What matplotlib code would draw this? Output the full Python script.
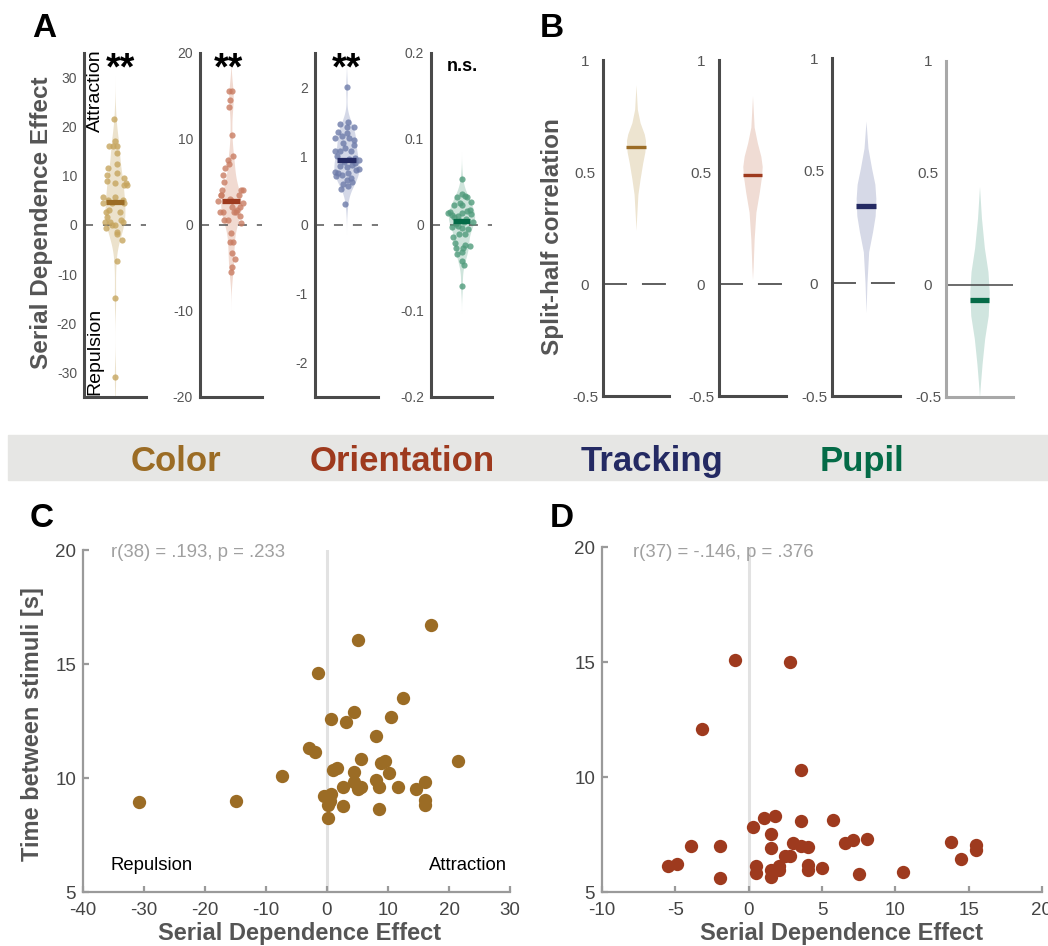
import numpy as np
import matplotlib
matplotlib.use('Agg')
import matplotlib.pyplot as plt
from matplotlib import font_manager
from matplotlib.patches import Rectangle

# ---------------- data ----------------
# Colour task: serial dependence effect (A, C x) and time between stimuli (C y)
color_sde = [-30.9, -14.9, -7.4, -2.96, -1.9, -1.45, 0.6, 3.06, 4.5, 5.05,
             17.0, 12.5, 10.5, 8.06, 21.5, 1.0, 1.56, 5.6, 4.5, 8.87,
             9.57, 10.1, 4.5, 5.05, 5.65, 8.06, 8.6, 11.6, 14.6, 16.1,
             16.1, 16.1, 2.63, 2.63, 8.6, -0.54, 0.65, 0.1, 0.54, 0.1]
color_isi = [8.93, 8.98, 10.1, 11.32, 11.14, 14.6, 12.59, 12.47, 12.9, 16.05,
             16.7, 13.5, 12.68, 11.83, 10.75, 10.34, 10.44, 10.83, 10.25, 10.66,
             10.75, 10.23, 9.81, 9.53, 9.59, 9.9, 9.6, 9.6, 9.52, 9.84,
             9.02, 8.83, 9.62, 8.76, 8.64, 9.23, 9.31, 8.83, 8.98, 8.23]
color_jit = [0, 0, .05, .22, .08, .05, -.32, -.2, -.4, .25,
             0, .08, .08, .28, -.02, .2, -.25, -.4, .3, -.25,
             .28, -.25, -.1, -.22, 0, .38, 0, -.22, .08, -.2,
             -.08, .05, -.3, .15, .36, -.3, .25, 0, -.15, -.1]

# Orientation task (A, D)
ori_sde = [-0.96, 2.79, -3.2, 3.54, 0.27, 1.03, 1.78, 3.54, 5.78, 1.53,
           1.53, -3.95, -1.94, -5.48, -4.9, -1.94, 3.0, 3.54, 4.04, 6.58,
           7.08, 8.04, 2.51, 2.8, 0.53, 0.53, 1.53, 2.05, 2.05, 1.53,
           4.04, 4.04, 5.02, 7.53, 10.52, 13.77, 15.53, 15.53, 14.5]
ori_isi = [15.09, 15.0, 12.07, 10.32, 7.83, 8.23, 8.29, 8.1, 8.12, 7.54,
           6.91, 6.99, 6.99, 6.14, 6.22, 5.59, 7.13, 6.99, 6.96, 7.13,
           7.28, 7.3, 6.55, 6.58, 6.12, 5.83, 5.97, 6.12, 5.94, 5.64,
           6.19, 5.97, 6.04, 5.8, 5.87, 7.17, 7.06, 6.81, 6.45]
ori_jit = [0, -.41, .04, -.32, .33, .30, .19, .27, -.27, -.35,
           -.27, .12, -.02, 0, .02, .08, -.02, -.32, .40, -.18,
           -.08, .08, .40, .02, -.22, -.11, .16, .02, .30, .11,
           -.30, .32, -.22, -.11, .02, -.05, -.08, .02, -.02]

# Tracking task (A)
track_sde = [2.00, 1.47, 1.49, 1.42, 1.42, 1.35, 1.30, 1.27, 1.26, 1.24,
             1.19, 1.07, 1.07, 1.07, 0.98, 0.94, 0.90, 0.86, 0.84, 0.82,
             0.77, 0.76, 0.71, 0.72, 0.69, 0.66, 0.59, 0.57, 0.52, 0.30,
             0.75, 0.87, 0.96, 1.12, 1.01, 1.33, 0.92, 0.63, 1.17, 0.80]
track_jit = [0, -.22, .06, 0, .24, -.28, -.13, .09, -.37, .23,
             -.11, -.37, -.22, .14, .28, .39, .28, -.22, 0, .39,
             -.37, .06, -.32, -.13, .13, 0, -.11, .04, -.19, -.04,
             -.28, .19, .09, -.04, -.30, .02, -.09, .17, .24, .30]

# Pupil (A)
pupil_sde = [0.054, 0.036, 0.034, 0.033, 0.033, 0.027, 0.025, 0.023, 0.023, 0.018,
             0.016, 0.015, 0.014, 0.014, 0.013, 0.012, 0.010, 0.009, 0.007, 0.005,
             0.004, 0.003, 0.001, -0.001, -0.002, -0.003, -0.005, -0.011, -0.011, -0.014,
             -0.021, -0.023, -0.025, -0.027, -0.027, -0.031, -0.034, -0.042, -0.047, -0.071]
pupil_jit = [0, .03, .11, -.16, .19, .30, -.05, -.24, .02, .27,
             .19, -.38, -.43, .03, .30, -.30, -.11, -.24, .16, -.05,
             .38, .09, -.19, -.13, -.30, .02, .22, -.08, .11, -.27,
             -.22, .13, .27, -.19, .06, .03, -.14, 0, .08, .03]

# Split-half correlation distributions (B): value and relative width of the violin
split_color_y = [0.89, 0.78, 0.72, 0.67, 0.64, 0.59, 0.54, 0.47, 0.40, 0.30, 0.24]
split_color_w = [0, 0.14, 0.43, 0.86, 1.0, 0.93, 0.70, 0.43, 0.20, 0.07, 0]
split_ori_y = [0.84, 0.70, 0.63, 0.57, 0.525, 0.48, 0.41, 0.32, 0.20, 0.08, 0.02]
split_ori_w = [0, 0.17, 0.50, 0.86, 1.0, 0.93, 0.70, 0.35, 0.17, 0.07, 0]
split_track_y = [0.72, 0.60, 0.51, 0.44, 0.376, 0.30, 0.23, 0.14, 0.004, -0.13]
split_track_w = [0, 0.20, 0.57, 0.90, 1.0, 0.93, 0.67, 0.27, 0.10, 0]
split_pupil_y = [0.44, 0.30, 0.166, 0.06, -0.03, -0.136, -0.24, -0.35, -0.44, -0.50]
split_pupil_w = [0, 0.20, 0.50, 0.87, 1.0, 0.90, 0.53, 0.27, 0.10, 0]
split_mean = [0.612, 0.488, 0.344, -0.068]

task_names = ['Color', 'Orientation', 'Tracking', 'Pupil']
stats_c = 'r(38) = .193, p = .233'
stats_d = 'r(37) = -.146, p = .376'

# ---------------- style ----------------
plt.rcParams['font.family'] = ['Liberation Sans', 'DejaVu Sans']
names = {f.name for f in font_manager.fontManager.ttflist}
band_font = 'Liberation Sans Narrow' if 'Liberation Sans Narrow' in names else 'Liberation Sans'
band_size = 30 if band_font == 'Liberation Sans Narrow' else 25

dark = ['#9b6c25', '#9e3a1e', '#242a63', '#046b47']
fills = ['#ece2cc', '#f1dad1', '#d4d8e7', '#cee4db']
dots = ['#c6a55e', '#c97c62', '#6d7ba9', '#4f9b7b']
bfills = ['#ede4d0', '#f0dcd4', '#d6d9e7', '#d0e5df']

W, H = 1048, 946
fig = plt.figure(figsize=(W / 100, H / 100), dpi=100)


def px_axes(left, top, right, bottom):
    return fig.add_axes([left / W, 1 - bottom / H, (right - left) / W, (bottom - top) / H])


def ftext(x, y, s, **kw):
    fig.text(x / W, 1 - y / H, s, **kw)


def kde_outline(vals, lo, hi):
    v = np.asarray(vals, dtype=float)
    iqr = np.subtract(*np.percentile(v, [75, 25]))
    bw = 0.9 * min(v.std(ddof=1), iqr / 1.34) * len(v) ** -0.2
    grid = np.linspace(max(v.min() - 3 * bw, lo), min(v.max() + 3 * bw, hi), 300)
    dens = np.exp(-0.5 * ((grid[:, None] - v[None, :]) / bw) ** 2).sum(axis=1)
    return grid, dens / dens.max()


# ---------------- panel A ----------------
a_vals = [color_sde, ori_sde, track_sde, pupil_sde]
a_jits = [color_jit, ori_jit, track_jit, pupil_jit]
a_lims = [(-35, 35), (-20, 20), (-2.5, 2.5), (-0.2, 0.2)]
a_ticks = [[-30, -20, -10, 0, 10, 20, 30], [-20, -10, 0, 10, 20],
           [-2, -1, 0, 1, 2], [-0.2, -0.1, 0, 0.1, 0.2]]
a_labels = [['-30', '-20', '-10', '0', '10', '20', '30'], ['-20', '-10', '0', '10', '20'],
            ['-2', '-1', '0', '1', '2'], ['-0.2', '-0.1', '0', '0.1', '0.2']]
a_box = [(84, 146), (200, 262), (315, 378), (431, 492)]
a_hw = [0.32, 0.33, 0.40, 0.43]
a_sig = ['**', '**', '**', 'n.s.']
a_sig_x = [120, 228, 346, 462]

for i in range(4):
    ax = px_axes(a_box[i][0], 53, a_box[i][1], 397)
    lo, hi = a_lims[i]
    g, d = kde_outline(a_vals[i], lo, hi)
    ax.fill_betweenx(g, -d * a_hw[i], d * a_hw[i], color=fills[i], lw=0, zorder=1)
    ax.axhline(0, color='#555555', lw=1.1, ls=(0, (5.9, 6.5)), zorder=2)
    ax.scatter(a_jits[i], a_vals[i], s=20, color=dots[i], alpha=0.8, lw=0, zorder=3)
    med = np.median(a_vals[i])
    ax.plot([-0.29, 0.29], [med, med], color=dark[i], lw=3.8, solid_capstyle='butt', zorder=4)
    ax.set_xlim(-1, 1)
    ax.set_ylim(lo, hi)
    ax.set_xticks([])
    ax.set_yticks(a_ticks[i])
    ax.set_yticklabels(a_labels[i])
    ax.tick_params(axis='y', length=0, pad=5, labelsize=10, labelcolor='#555555')
    for s in ['top', 'right']:
        ax.spines[s].set_visible(False)
    for s in ['left', 'bottom']:
        ax.spines[s].set_color('#4a4a4a')
        ax.spines[s].set_linewidth(2.2)
    if a_sig[i] == '**':
        ftext(a_sig_x[i], 51, '**', fontsize=27, fontweight='bold', ha='center', va='top')
    else:
        ftext(a_sig_x[i], 71, 'n.s.', fontsize=13, fontweight='bold', ha='center', va='baseline')
    if i == 0:
        ax.text(0.18, 1.01, 'Attraction', rotation=90, ha='center', va='top',
                fontsize=14, transform=ax.transAxes)
        ax.text(0.18, 0.005, 'Repulsion', rotation=90, ha='center', va='bottom',
                fontsize=14, transform=ax.transAxes)

ftext(42, 223, 'Serial Dependence Effect', rotation=90, fontsize=17.5, fontweight='bold',
      color='#555555', ha='center', va='center')

# ---------------- panel B ----------------
b_y = [split_color_y, split_ori_y, split_track_y, split_pupil_y]
b_w = [split_color_w, split_ori_w, split_track_w, split_pupil_w]
b_box = [(603, 60, 669, 396), (719, 60, 786, 396), (832, 58, 900, 396), (946, 61, 1013, 397)]
b_lw = [2.4, 2.4, 3.8, 3.8]

for i in range(4):
    ax = px_axes(*b_box[i])
    w = np.asarray(b_w[i]) * 0.29
    ax.fill_betweenx(b_y[i], -w, w, color=bfills[i], lw=0, zorder=1)
    if i < 3:
        ax.axhline(0, color='#333333', lw=1.1, ls=(0, (15.7, 9.8)), zorder=2)
    else:
        ax.axhline(0, color='#444444', lw=1.1, zorder=2)
    ax.plot([-0.29, 0.29], [split_mean[i]] * 2, color=dark[i], lw=b_lw[i],
            solid_capstyle='butt', zorder=3)
    ax.set_xlim(-1, 1)
    ax.set_ylim(-0.5, 1)
    ax.set_xticks([])
    ax.set_yticks([-0.5, 0, 0.5, 1])
    ax.set_yticklabels(['-0.5', '0', '0.5', '1'])
    ax.tick_params(axis='y', length=0, pad=13, labelsize=11, labelcolor='#555555')
    for t in ax.get_yticklabels():
        t.set_horizontalalignment('center')
    for s in ['top', 'right']:
        ax.spines[s].set_visible(False)
    spc = '#4a4a4a' if i < 3 else '#a8a8a8'
    for s in ['left', 'bottom']:
        ax.spines[s].set_color(spc)
        ax.spines[s].set_linewidth(2.2)

ftext(552, 237, 'Split-half correlation', rotation=90, fontsize=17.5, fontweight='bold',
      color='#555555', ha='center', va='center')

# ---------------- task band ----------------
fig.patches.append(Rectangle((8 / W, 1 - 480 / H), 1 - 8 / W, 45 / H,
                             transform=fig.transFigure, color='#e6e6e4', zorder=0))
for name, x, c in zip(task_names, [176, 402, 652, 862], dark):
    ftext(x, 471, name, family=[band_font, 'Liberation Sans'], fontsize=band_size,
          fontweight='bold', color=c, ha='center', va='baseline')

# ---------------- panels C and D ----------------
cd = [
    (px_axes(83, 550, 510, 892), color_sde, color_isi, dark[0], (-40, 30),
     list(range(-40, 31, 10)), stats_c, 300),
    (px_axes(602, 547, 1042, 892), ori_sde, ori_isi, dark[1], (-10, 20),
     list(range(-10, 21, 5)), stats_d, 842),
]
for k, (ax, xs, ys, c, xl, xt, st, xlab) in enumerate(cd):
    ax.axvline(0, color='#e2e2e2', lw=2.2, zorder=1)
    ax.scatter(xs, ys, s=92, color=c, lw=0, zorder=3)
    ax.set_xlim(*xl)
    ax.set_ylim(5, 20)
    ax.set_xticks(xt)
    ax.set_xticklabels([str(v) for v in xt])
    ax.set_yticks([5, 10, 15, 20])
    ax.set_yticklabels(['5', '10', '15', '20'])
    ax.tick_params(direction='in', length=4, width=1.6, color='#9a9a9a',
                   labelsize=13.5, labelcolor='#444444')
    ax.tick_params(axis='x', pad=7)
    ax.tick_params(axis='y', pad=5)
    for s in ['top', 'right']:
        ax.spines[s].set_visible(False)
    for s in ['left', 'bottom']:
        ax.spines[s].set_color('#9a9a9a')
        ax.spines[s].set_linewidth(1.6)
    left = 111 if k == 0 else 633
    ftext(left, 557, st, fontsize=13.4, color='#a0a0a0', ha='left', va='baseline')
    ftext(xlab, 933, 'Serial Dependence Effect', fontsize=17, fontweight='bold',
          color='#555555', ha='center', va='center')

ftext(111, 870, 'Repulsion', fontsize=13.3, ha='left', va='baseline')
ftext(507, 870, 'Attraction', fontsize=13.3, ha='right', va='baseline')
ftext(33, 724, 'Time between stimuli [s]', rotation=90, fontsize=17, fontweight='bold',
      color='#555555', ha='center', va='center')

# panel letters
for lab, x, y in [('A', 32, 37), ('B', 540, 37), ('C', 30, 527), ('D', 550, 527)]:
    ftext(x, y, lab, fontsize=24, fontweight='bold', ha='left', va='baseline')

fig.savefig('out.png', dpi=100)
